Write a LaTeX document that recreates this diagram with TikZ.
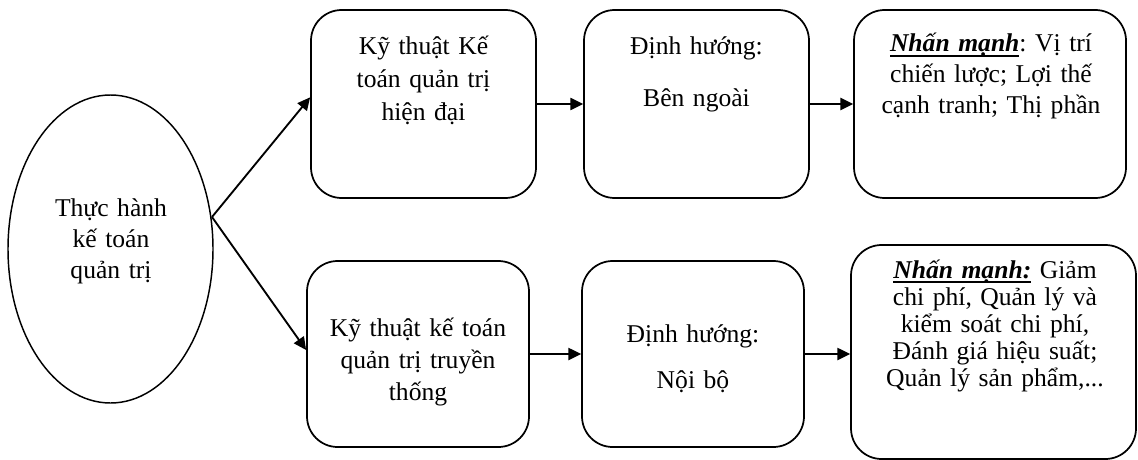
\documentclass[tikz,border=0pt]{standalone}
\usepackage{fontspec}
\setmainfont{Liberation Serif}
\usetikzlibrary{shapes.geometric,arrows.meta}
\frenchspacing

\tikzset{
  card/.style={draw, line width=1.3pt, rounded corners=23pt, inner sep=0pt},
  oval/.style={draw, ellipse, line width=1.1pt, inner sep=0pt,
    minimum width=153.75pt, minimum height=231pt},
  label/.style={anchor=base, align=center, text width=#1, inner sep=0pt},
  label/.default=200pt,
  link/.style={line width=1.4pt, -{Triangle[length=9.5pt,width=9pt]}},
}
\newcommand{\boxfont}[1]{\fontsize{19.2pt}{#1}\selectfont}
% bold italic word with a rule close under its baseline
\newsavebox\stressbox
\newcommand{\stress}[1]{%
  \sbox\stressbox{\textbf{\textit{#1}}}%
  \rlap{\rule[-3.4pt]{\wd\stressbox}{1.3pt}}\usebox\stressbox}

\begin{document}
\begin{tikzpicture}[x=0.75pt, y=-0.75pt]
  \useasboundingbox (0,0) rectangle (1138,460);

  % root of the tree
  \node[oval] (root) at (110.5,249) {};
  \node[label=150pt, font=\boxfont{23.25pt}] (rootTxt) at (111,216)
    {Thực hành\\kế toán\\quản trị};
  \coordinate (fork) at (212,217);

  % upper branch
  \node[card, minimum width=168.75pt, minimum height=141pt] (u1) at (423.5,104) {};
  \node[card, minimum width=168.75pt, minimum height=141pt] (u2) at (696.5,104) {};
  \node[card, minimum width=204pt, minimum height=141pt] (u3) at (990,104) {};

  \node[label, font=\boxfont{24.5pt}] (u1Txt) at (423.5,55)
    {Kỹ thuật Kế\\toán quản trị\\hiện đại};
  \node[label, font=\boxfont{24pt}] (u2Txt) at (696.5,55)
    {Định hướng:\\[15pt]Bên ngoài};
  \node[label=204pt, font=\boxfont{22.9pt}] (u3Txt) at (991,52)
    {\stress{Nhấn mạnh}: Vị trí\\chiến lược; Lợi thế\\cạnh tranh; Thị phần};

  % lower branch
  \node[card, minimum width=166.5pt, minimum height=139.5pt] (l1) at (418,354) {};
  \node[card, minimum width=166.5pt, minimum height=139.5pt] (l2) at (693,354) {};
  \node[card, minimum width=213.75pt, minimum height=160.5pt] (l3) at (993.5,352) {};

  \node[label, font=\boxfont{24pt}] (l1Txt) at (418,336)
    {Kỹ thuật kế toán\\quản trị truyền\\thống};
  \node[label, font=\boxfont{24pt}] (l2Txt) at (693,342)
    {Định hướng:\\[10.5pt]Nội bộ};
  \node[label=210pt, font=\boxfont{20.25pt}] (l3Txt) at (995,278)
    {\stress{Nhấn mạnh:} Giảm\\chi phí, Quản lý và\\kiểm soát chi phí,\\Đánh giá hiệu suất;\\Quản lý sản phẩm,...};

  % connectors
  \draw[link] (fork) -- ([yshift=5pt]u1.west);
  \draw[link] (fork) -- ([yshift=3pt]l1.west);
  \draw[link] (u1.east) -- (u2.west);
  \draw[link] (u2.east) -- (u3.west);
  \draw[link] (l1.east) -- (l2.west);
  \draw[link] (l2.east) -- (l2.east -| l3.west);
\end{tikzpicture}
\end{document}
